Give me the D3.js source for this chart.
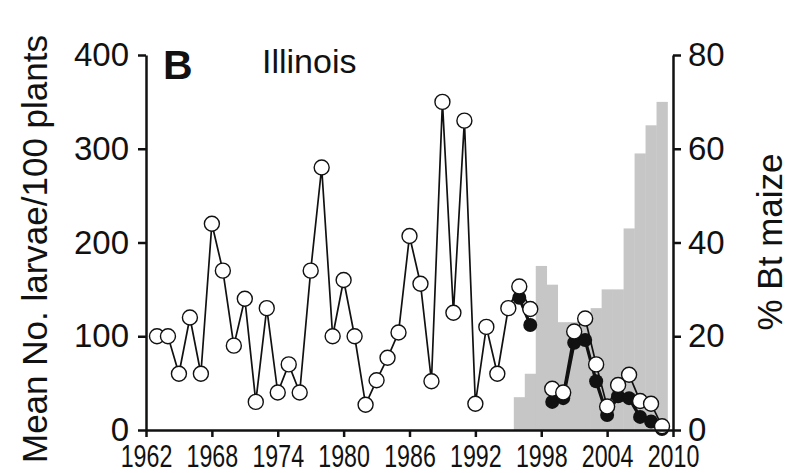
<!DOCTYPE html>
<html>
<head>
<meta charset="utf-8">
<script src="https://cdn.jsdelivr.net/npm/d3@7"></script>
<style>
  body { margin: 0; background: #fff; }
  svg { display: block; }
  text { font-family: "Liberation Sans", Arial, Helvetica, sans-serif; fill: #111; }
</style>
</head>
<body>
<div class="chart"></div>
<script>

// open circles: all fields, filled circles: non-Bt fields
let years = d3.range(1963, 2010);
let openValues = [100, 100, 60, 120, 60, 220, 170, 90, 140, 30,
                  130, 40, 70, 40, 170, 280, 100, 160, 100, 27,
                  53, 77, 104, 207, 156, 52, 350, 125, 330, 28,
                  110, 60, 130, 153, 129, null, 44, 40, 105, 119,
                  70, 25, 48, 59, 31, 28, 4];
let filledYears = d3.range(1996, 2010);
let filledValues = [141, 112, null, 30, 34, 93, 96, 52, 16, 36, 34, 14, 9, 1];

let btYears = d3.range(1996, 2010);
let btPercent = [7, 12, 35, 31, 23, 23, 24, 26, 30, 30, 43, 59, 65, 70];

let xTicks = [1962, 1968, 1974, 1980, 1986, 1992, 1998, 2004, 2010];
let yTicks = [0, 100, 200, 300, 400];
let y2Ticks = [0, 20, 40, 60, 80];

let width = 786,
    height = 473,
    margin = {top: 55, right: 113, bottom: 43, left: 146};

let x = d3.scaleLinear()
    .domain([1962, 2010])
    .range([margin.left, width - margin.right]);

let y = d3.scaleLinear()
    .domain([0, 400])
    .range([height - margin.bottom, margin.top]);

let y2 = d3.scaleLinear()
    .domain([0, 80])
    .range([height - margin.bottom, margin.top]);

let svg = d3.select(".chart")
    .append("svg")
    .attr("width", width)
    .attr("height", height);

// % Bt maize as grey steps, one year wide
let bt = btYears.map((d, i) => ({year: d, v: btPercent[i]}));
svg.append("g")
    .selectAll("rect")
    .data(bt)
    .join("rect")
    .attr("x", d => x(d.year - 0.5))
    .attr("width", d => x(d.year + 0.5) - x(d.year - 0.5) + 0.3)
    .attr("y", d => y2(d.v))
    .attr("height", d => y2(0) - y2(d.v))
    .attr("fill", "#c6c6c6");

let line = d3.line()
    .defined(d => d.v != null)
    .x(d => x(d.year))
    .y(d => y(d.v));

let filled = filledYears.map((d, i) => ({year: d, v: filledValues[i]}));
let open = years.map((d, i) => ({year: d, v: openValues[i]}));

svg.append("path")
    .datum(filled)
    .attr("d", line)
    .attr("fill", "none")
    .attr("stroke", "#111")
    .attr("stroke-width", 3.2);

svg.append("g")
    .selectAll("circle")
    .data(filled.filter(d => d.v != null))
    .join("circle")
    .attr("cx", d => x(d.year))
    .attr("cy", d => y(d.v))
    .attr("r", 7)
    .attr("fill", "#111");

svg.append("path")
    .datum(open)
    .attr("d", line)
    .attr("fill", "none")
    .attr("stroke", "#111")
    .attr("stroke-width", 1.7);

svg.append("g")
    .selectAll("circle")
    .data(open.filter(d => d.v != null))
    .join("circle")
    .attr("cx", d => x(d.year))
    .attr("cy", d => y(d.v))
    .attr("r", 7.5)
    .attr("fill", "#fff")
    .attr("stroke", "#111")
    .attr("stroke-width", 1.4);

// axes
let axisStyle = g => {
    g.select(".domain").attr("stroke", "#111").attr("stroke-width", 2.5);
    g.selectAll(".tick line").attr("stroke", "#111").attr("stroke-width", 2.5);
    g.selectAll(".tick text").attr("fill", "#111").attr("font-size", 33);
};

svg.append("g")
    .attr("transform", `translate(${margin.left},0)`)
    .call(d3.axisLeft(y).tickValues(yTicks).tickSize(8).tickSizeOuter(0).tickPadding(9))
    .call(axisStyle)
    .call(g => g.selectAll(".tick text").attr("font-family", null));

svg.append("g")
    .attr("transform", `translate(${width - margin.right},0)`)
    .call(d3.axisRight(y2).tickValues(y2Ticks).tickSize(8).tickSizeOuter(0).tickPadding(7))
    .call(axisStyle)
    .call(g => g.selectAll(".tick text").attr("font-family", null));

let xAxis = svg.append("g")
    .attr("transform", `translate(0,${height - margin.bottom})`)
    .call(d3.axisBottom(x).tickValues(xTicks).tickFormat(d3.format("d")).tickSize(7).tickSizeOuter(0))
    .call(axisStyle);

// x labels are narrow in the original
xAxis.selectAll(".tick text")
    .attr("font-family", null)
    .attr("y", 0)
    .attr("dy", 0)
    .attr("font-size", 31)
    .attr("transform", "translate(0,37) scale(0.75,1)");

svg.append("text")
    .attr("x", 163)
    .attr("y", 79)
    .attr("font-size", 41)
    .attr("font-weight", "bold")
    .text("B");

svg.append("text")
    .attr("x", 262)
    .attr("y", 73)
    .attr("font-size", 34)
    .text("Illinois");

svg.append("text")
    .attr("transform", "translate(47,249) rotate(-90)")
    .attr("text-anchor", "middle")
    .attr("font-size", 35)
    .text("Mean No. larvae/100 plants");

svg.append("text")
    .attr("transform", "translate(782,242) rotate(-90)")
    .attr("text-anchor", "middle")
    .attr("font-size", 35)
    .text("% Bt maize");

</script>
</body>
</html>
